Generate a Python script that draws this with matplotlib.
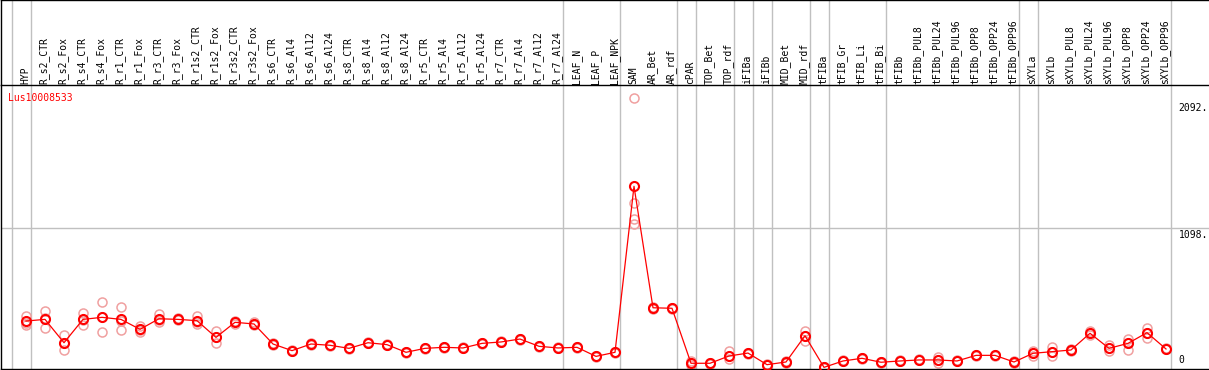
import matplotlib
matplotlib.use("Agg")
import matplotlib.pyplot as plt
import matplotlib.transforms as mtransforms

# Sample names (header labels), one per column
samples = ["HYP",
           "R_s2_CTR", "R_s2_Fox", "R_s4_CTR", "R_s4_Fox", "R_r1_CTR", "R_r1_Fox",
           "R_r3_CTR", "R_r3_Fox", "R_r1s2_CTR", "R_r1s2_Fox", "R_r3s2_CTR", "R_r3s2_Fox",
           "R_s6_CTR", "R_s6_Al4", "R_s6_Al12", "R_s6_Al24",
           "R_s8_CTR", "R_s8_Al4", "R_s8_Al12", "R_s8_Al24",
           "R_r5_CTR", "R_r5_Al4", "R_r5_Al12", "R_r5_Al24",
           "R_r7_CTR", "R_r7_Al4", "R_r7_Al12", "R_r7_Al24",
           "LEAF_N", "LEAF_P", "LEAF_NPK",
           "SAM", "AR_Bet", "AR_rdf",
           "cPAR", "TOP_Bet", "TOP_rdf", "iFIBa", "iFIBb", "MID_Bet", "MID_rdf",
           "tFIBa", "tFIB_Gr", "tFIB_Li", "tFIB_Bi",
           "tFIBb", "tFIBb_PUL8", "tFIBb_PUL24", "tFIBb_PUL96",
           "tFIBb_OPP8", "tFIBb_OPP24", "tFIBb_OPP96",
           "sXYLa", "sXYLb", "sXYLb_PUL8", "sXYLb_PUL24", "sXYLb_PUL96",
           "sXYLb_OPP8", "sXYLb_OPP24", "sXYLb_OPP96"]

# number of samples in each group (grey separators between groups)
group_sizes = [1, 28, 3, 3, 1, 2, 1, 1, 2, 1, 3, 7, 1, 7]

# mean expression per sample
means = [372, 385, 202, 385, 401, 385, 307, 390, 385, 375,
         244, 362, 349, 192, 140, 192, 182, 158, 202, 187,
         127, 158, 166, 161, 197, 208, 231, 174, 161, 166,
         95, 127, 1428, 476, 472, 41, 41, 98, 121, 30,
         51, 257, 9, 59, 80, 49, 59, 67, 67, 59,
         103, 103, 51, 119, 132, 145, 276, 158, 197, 281, 153]

# replicate values per sample
replicates = [[414, 354, 338], [448, 392, 315], [260, 202, 145], [435, 380, 341],
              [519, 401, 284], [482, 375, 299], [335, 300, 286], [429, 380, 362],
              [392, 385, 378], [411, 365, 349], [294, 244, 202], [375, 362, 349],
              [368, 349, 341], [196, 192, 188], [144, 140, 136], [196, 192, 188],
              [186, 182, 178], [162, 158, 154], [206, 202, 198], [191, 187, 183],
              [131, 127, 123], [162, 158, 154], [170, 166, 162], [165, 161, 157],
              [201, 197, 193], [212, 208, 204], [235, 231, 227], [178, 174, 170],
              [165, 161, 157], [170, 166, 162], [99, 95, 91], [131, 127, 123],
              [2117, 1299, 1169, 1132], [484, 476, 470], [478, 472, 466],
              [55, 41, 30], [45, 41, 37], [140, 98, 72], [125, 121, 117],
              [34, 30, 26], [55, 51, 47], [296, 257, 218], [12, 9, 5],
              [63, 59, 55], [84, 80, 76], [53, 49, 45], [63, 59, 55],
              [71, 67, 63], [88, 67, 46], [63, 59, 55], [107, 103, 99],
              [107, 103, 99], [55, 51, 47], [140, 119, 98], [171, 132, 98],
              [149, 145, 141], [296, 276, 260], [184, 158, 137], [229, 197, 145],
              [315, 281, 237], [157, 153, 149]]

gene = "Lus10008533"
ytick_vals = [0, 1098, 2092]
ytick_labels = ["0", "1098.", "2092."]

W, H = 1209, 370
fig = plt.figure(figsize=(W / 100, H / 100), dpi=100)
grey = "#c0c0c0"
mono = "DejaVu Sans Mono"

xs = list(range(len(samples)))
xlim = ((1 - 26) / 19, (W - 26) / 19)

# header axes (labels) and main plot axes
axh = fig.add_axes([1 / W, (H - 85) / H, 1 - 1 / W, 85 / H])
ax = fig.add_axes([1 / W, 1 / H, 1 - 1 / W, 284 / H])

for a in (axh, ax):
    a.set_xlim(*xlim)
    a.set_xticks([])
    a.set_yticks([])
    for s in a.spines.values():
        s.set_visible(False)
    a.spines["left"].set_visible(True)
    a.spines["top"].set_visible(True)
    a.spines["left"].set_linewidth(1.0)
    a.spines["top"].set_linewidth(1.0)
ax.spines["bottom"].set_visible(True)
ax.spines["bottom"].set_linewidth(1.0)

axh.set_ylim(0, 85)
ax.set_ylim(-3.9, 2222)

# group separators
bounds = [-1]
for g in group_sizes:
    bounds.append(bounds[-1] + g)
for b in bounds:
    for a in (axh, ax):
        a.axvline(b + 0.237, color=grey, lw=1.0, zorder=0)

ax.axhline(ytick_vals[1], color=grey, lw=1.0, zorder=0)

# header labels
for x, name in zip(xs, samples):
    axh.text(x - 0.05, 1.5, name, rotation=90, ha="center", va="bottom",
             fontsize=7, family=mono)

# replicates
for x, reps in zip(xs, replicates):
    ax.plot([x] * len(reps), reps, "o", ms=6.5, mfc="none", mec="#f0a0a0",
            mew=1.1, zorder=2)

# mean line
ax.plot(xs, means, "-", color="red", lw=0.9, zorder=3)
ax.plot(xs, means, "o", ms=6.5, mfc="none", mec="red", mew=1.5, zorder=4)

ax.text(-0.95, 0.955, gene, color="red", fontsize=7, family=mono,
        transform=mtransforms.blended_transform_factory(ax.transData, ax.transAxes),
        ha="left", va="center")

# value labels on the right
trans = mtransforms.blended_transform_factory(ax.transAxes, ax.transData)
for v, lab in zip(ytick_vals, ytick_labels):
    va = "bottom" if v == 0 else "top"
    off = 30 if v == 0 else -10
    ax.text(0.975, v + off, lab, transform=trans, ha="left", va=va,
            fontsize=7, family=mono)

fig.savefig("out.png", dpi=100)
